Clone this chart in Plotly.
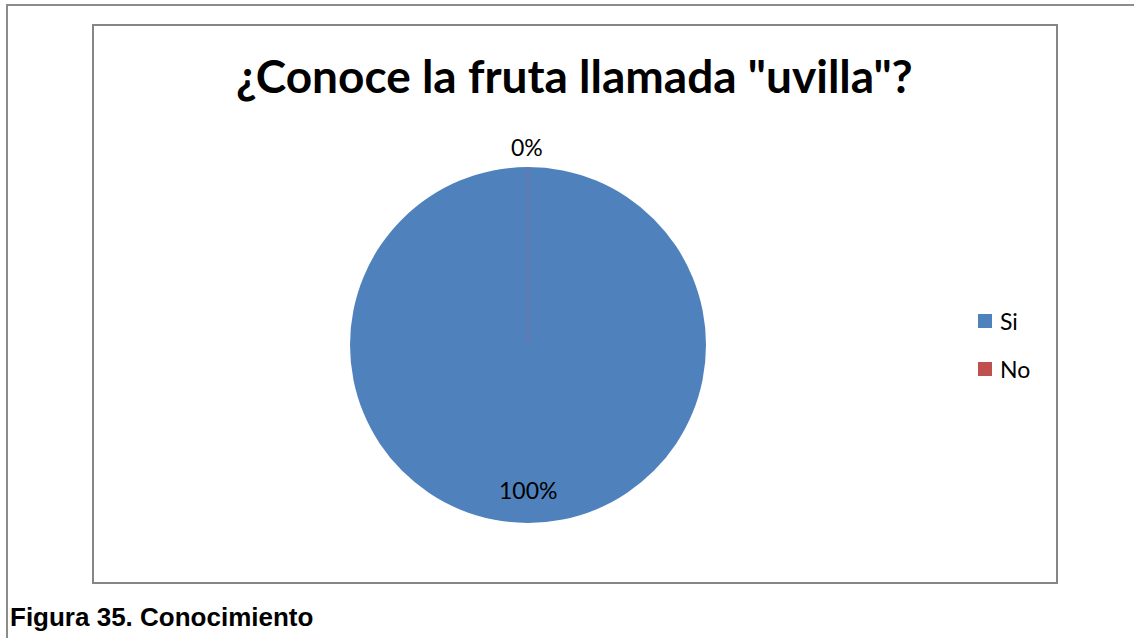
import plotly.graph_objects as go

# ---- data ----
categories = ["Si", "No"]
values = [100, 0]
colors = ["#4F81BD", "#C0504D"]
title_text = '¿Conoce la fruta llamada "uvilla"?'
caption_text = "Figura 35. Conocimiento"

W, H = 1134, 638

def px(x):
    return x / W

def py(y):
    return 1 - y / H

# pie geometry (pixels)
cx, cy, r = 528, 345, 178

fig = go.Figure()
fig.add_trace(go.Pie(
    labels=categories,
    values=values,
    marker=dict(colors=colors, line=dict(width=0)),
    sort=False,
    direction="clockwise",
    rotation=0,
    textinfo="none",
    hoverinfo="label+percent",
    showlegend=False,
    domain=dict(x=[px(cx - r), px(cx + r)], y=[py(cy + r), py(cy - r)]),
))

total = sum(values)
pcts = [round(v / total * 100) for v in values]

FONT = "Lato, Carlito, sans-serif"
shapes = []
annotations = []

def ann(text, x, y, size, family=FONT, xanchor="center"):
    annotations.append(dict(text=text, x=px(x), y=py(y), xref="paper", yref="paper",
                            xanchor=xanchor, yanchor="middle", showarrow=False,
                            font=dict(family=family, size=size, color="#000")))

# outer frame (top + left)
shapes.append(dict(type="line", xref="paper", yref="paper", x0=px(6), x1=1, y0=py(5), y1=py(5),
                   line=dict(color="#8c8c8c", width=2)))
shapes.append(dict(type="line", xref="paper", yref="paper", x0=px(7), x1=px(7), y0=py(5), y1=0,
                   line=dict(color="#8c8c8c", width=2)))
# inner chart frame
shapes.append(dict(type="rect", xref="paper", yref="paper", x0=px(93), x1=px(1057), y0=py(583), y1=py(25),
                   line=dict(color="#868686", width=2), fillcolor="rgba(0,0,0,0)"))
# zero-slice divider line (No slice at 0 deg)
shapes.append(dict(type="line", xref="paper", yref="paper", x0=px(cx), x1=px(cx), y0=py(cy), y1=py(cy - r),
                   line=dict(color="#8a6f9c", width=1)))

# data labels
ann(f"{pcts[0]}%", cx, 490, 23)
ann(f"{pcts[1]}%", cx - 1, 147, 23)

# legend (manual)
leg_y = [321, 369]
for cat, col, ly in zip(categories, colors, leg_y):
    shapes.append(dict(type="rect", xref="paper", yref="paper", x0=px(978), x1=px(992),
                       y0=py(ly + 7), y1=py(ly - 7), fillcolor=col, line=dict(width=0)))
    ann(cat, 998, ly, 23, xanchor="left")

# title
ann(f"<b>{title_text}</b>", 574, 76, 46)
# caption
ann(f"<b>{caption_text}</b>", 8, 617, 26, family="Liberation Sans, Arial, sans-serif", xanchor="left")

fig.update_layout(
    width=W, height=H,
    margin=dict(l=0, r=0, t=0, b=0),
    paper_bgcolor="white",
    plot_bgcolor="white",
    shapes=shapes,
    annotations=annotations,
    showlegend=False,
)

fig.write_html("out.html")
